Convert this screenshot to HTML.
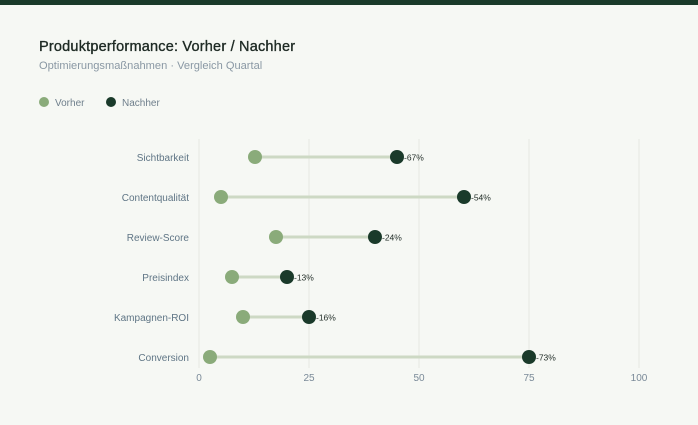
<!DOCTYPE html>
<html><head><meta charset="utf-8"><style>
html,body{margin:0;padding:0;background:#f6f8f4;}
svg{display:block;font-family:"Liberation Sans",sans-serif;}
</style></head><body>
<svg width="698" height="425" viewBox="0 0 698 425" xmlns="http://www.w3.org/2000/svg">
<rect width="698" height="425" fill="#f6f8f4"/>
<rect width="698" height="5" fill="#1a3a2a"/>
<text x="39" y="51" font-size="14.5" fill="#1e2a24" stroke="#1e2a24" stroke-width="0.35" letter-spacing="0.2">Produktperformance: Vorher / Nachher</text>
<text x="39" y="69" font-size="11.1" fill="#8a98a4">Optimierungsmaßnahmen · Vergleich Quartal</text>
<circle cx="44" cy="102" r="5" fill="#8aab7a"/>
<text x="55" y="106" font-size="10" fill="#6f7f8c">Vorher</text>
<circle cx="111" cy="102" r="5" fill="#1a3a2a"/>
<text x="122" y="106" font-size="10" fill="#6f7f8c">Nachher</text>
<g stroke="#eceee8" stroke-width="1.5">
<line x1="199" y1="139" x2="199" y2="368"/><line x1="309" y1="139" x2="309" y2="368"/>
<line x1="419" y1="139" x2="419" y2="368"/><line x1="529" y1="139" x2="529" y2="368"/>
<line x1="639" y1="139" x2="639" y2="368"/>
</g>
<g font-size="10" fill="#7a8a98" text-anchor="middle">
<text x="199" y="381">0</text><text x="309" y="381">25</text><text x="419" y="381">50</text><text x="529" y="381">75</text><text x="639" y="381">100</text>
</g>
<g font-size="10" fill="#5f7585" text-anchor="end">
<text x="189" y="161">Sichtbarkeit</text>
<text x="189" y="201">Contentqualität</text>
<text x="189" y="241">Review-Score</text>
<text x="189" y="281">Preisindex</text>
<text x="189" y="321">Kampagnen-ROI</text>
<text x="189" y="361">Conversion</text>
</g>
<g stroke="#cdd9c4" stroke-width="3">
<line x1="255" y1="157" x2="397" y2="157"/>
<line x1="221" y1="197" x2="464" y2="197"/>
<line x1="276" y1="237" x2="375" y2="237"/>
<line x1="232" y1="277" x2="287" y2="277"/>
<line x1="243" y1="317" x2="309" y2="317"/>
<line x1="210" y1="357" x2="529" y2="357"/>
</g>
<g fill="#8aab7a">
<circle cx="255" cy="157" r="7"/><circle cx="221" cy="197" r="7"/><circle cx="276" cy="237" r="7"/>
<circle cx="232" cy="277" r="7"/><circle cx="243" cy="317" r="7"/><circle cx="210" cy="357" r="7"/>
</g>
<g fill="#1a3a2a">
<circle cx="397" cy="157" r="7"/><circle cx="464" cy="197" r="7"/><circle cx="375" cy="237" r="7"/>
<circle cx="287" cy="277" r="7"/><circle cx="309" cy="317" r="7"/><circle cx="529" cy="357" r="7"/>
</g>
<g font-size="8.5" fill="#1e2a24">
<text x="404" y="160.5">-67%</text>
<text x="471" y="200.5">-54%</text>
<text x="382" y="240.5">-24%</text>
<text x="294" y="280.5">-13%</text>
<text x="316" y="320.5">-16%</text>
<text x="536" y="360.5">-73%</text>
</g>
</svg>
</body></html>
